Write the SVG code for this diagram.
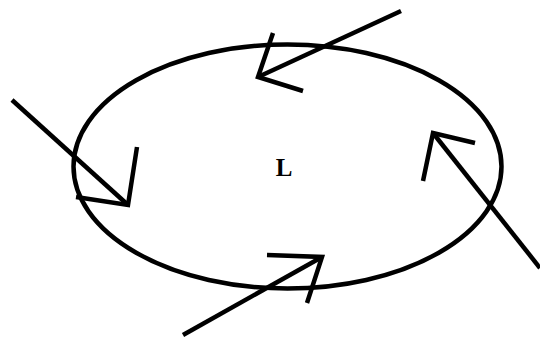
<svg xmlns="http://www.w3.org/2000/svg" width="540" height="337" viewBox="0 0 540 337">
<style>
.s{fill:none;stroke:#000;stroke-width:4.5;stroke-linecap:butt;stroke-linejoin:miter}
.t{font-family:"Liberation Serif",serif;font-weight:bold;font-size:25px;fill:#000;text-anchor:middle}
</style>
<rect width="540" height="337" fill="#fff"/>
<g id="loop">
<ellipse class="s" cx="287.5" cy="166.5" rx="214" ry="122"/>
<text class="t" x="284" y="176">L</text>
</g>
<g id="connectors">
<g id="arrow-top">
<line class="s" x1="401" y1="11" x2="258" y2="77"/>
<polyline class="s" points="273,33 258,77 303,91"/>
</g>
<g id="arrow-left">
<line class="s" x1="12" y1="100" x2="128" y2="205"/>
<polyline class="s" points="137,147 128,205 76,197"/>
</g>
<g id="arrow-right">
<line class="s" x1="540" y1="268" x2="433" y2="133"/>
<polyline class="s" points="475,143 433,133 423,181"/>
</g>
<g id="arrow-bottom">
<line class="s" x1="183" y1="335" x2="322" y2="257"/>
<polyline class="s" points="267,255 322,257 307,303"/>
</g>
</g>
</svg>
